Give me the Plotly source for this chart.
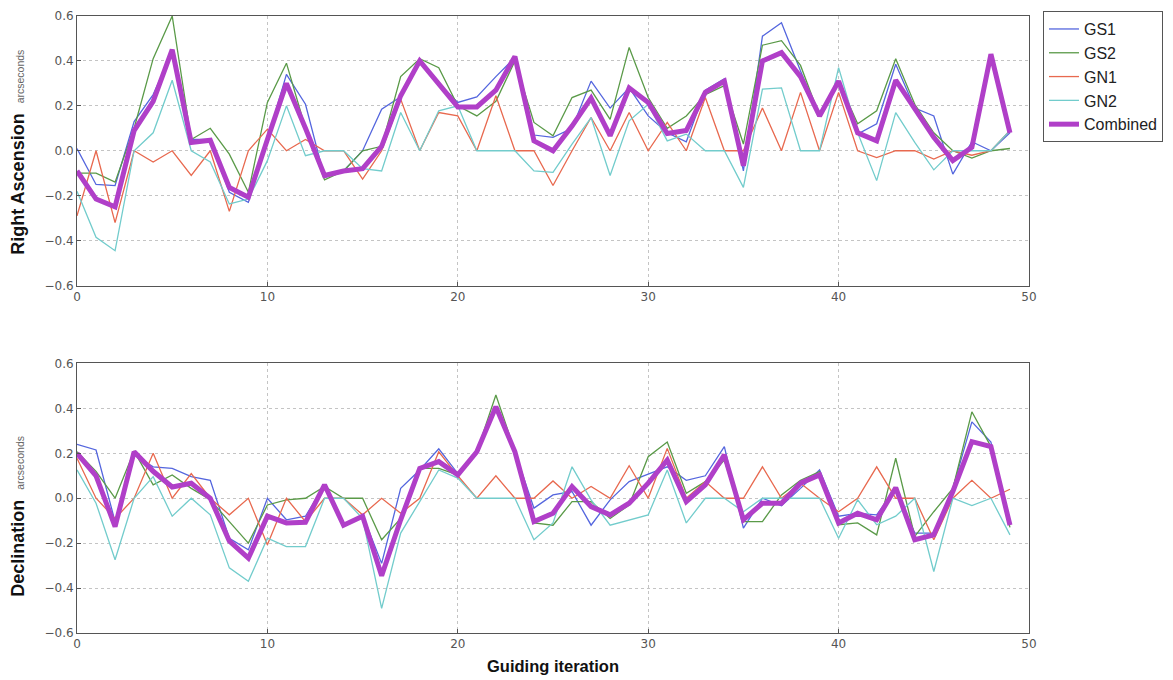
import plotly.graph_objects as go
from plotly.subplots import make_subplots

iterations = list(range(50))

# Right Ascension (arcseconds)
ra_gs1 = [0.01, -0.15, -0.155, 0.13, 0.25, 0.44, 0.05, 0.05, -0.185, -0.23,
          0.05, 0.34, 0.207, -0.12, -0.09, 0.0, 0.185, 0.24, 0.40, 0.30,
          0.215, 0.24, 0.33, 0.415, 0.07, 0.06, 0.10, 0.31, 0.19, 0.28,
          0.155, 0.08, 0.04, 0.27, 0.32, -0.09, 0.51, 0.57, 0.355, 0.155,
          0.31, 0.074, 0.12, 0.385, 0.19, 0.155, -0.104, 0.04, 0.0, 0.08]
ra_gs2 = [-0.10, -0.10, -0.14, 0.10, 0.41, 0.60, 0.05, 0.10, -0.015, -0.185,
          0.215, 0.39, 0.10, -0.13, -0.09, 0.0, 0.02, 0.33, 0.41, 0.37,
          0.20, 0.155, 0.22, 0.40, 0.126, 0.067, 0.237, 0.27, 0.14, 0.46,
          0.237, 0.10, 0.155, 0.25, 0.29, 0.03, 0.47, 0.49, 0.38, 0.155,
          0.31, 0.12, 0.178, 0.41, 0.207, 0.08, 0.0, -0.033, 0.0, 0.01]
ra_gn1 = [-0.29, 0.0, -0.32, 0.0, -0.05, 0.0, -0.11, 0.0, -0.27, 0.0,
          0.096, 0.0, 0.05, 0.0, 0.0, -0.126, 0.0, 0.23, 0.0, 0.17,
          0.155, 0.0, 0.245, 0.0, 0.0, -0.155, 0.0, 0.148, 0.0, 0.17,
          0.0, 0.126, 0.0, 0.237, 0.0, 0.0, 0.19, 0.0, 0.26, 0.0,
          0.26, 0.0, -0.03, 0.0, 0.0, -0.037, 0.0, -0.02, 0.0, 0.09]
ra_gn2 = [-0.18, -0.385, -0.445, 0.0, 0.08, 0.314, 0.0, -0.05, -0.237, -0.215,
          -0.044, 0.20, -0.022, 0.0, 0.0, -0.08, -0.09, 0.17, 0.0, 0.178,
          0.20, 0.0, 0.0, 0.0, -0.09, -0.096, 0.03, 0.148, -0.11, 0.133,
          0.207, 0.044, 0.074, 0.0, 0.0, -0.163, 0.274, 0.28, 0.0, 0.0,
          0.37, 0.08, -0.133, 0.17, 0.037, -0.085, 0.0, 0.0, 0.0, 0.09]
ra_comb = [-0.09, -0.215, -0.25, 0.09, 0.22, 0.45, 0.037, 0.047, -0.163, -0.207,
           0.05, 0.30, 0.10, -0.11, -0.09, -0.08, 0.02, 0.245, 0.40, 0.30,
           0.195, 0.195, 0.27, 0.42, 0.044, 0.0, 0.11, 0.234, 0.067, 0.28,
           0.215, 0.077, 0.09, 0.26, 0.31, -0.067, 0.40, 0.437, 0.33, 0.155,
           0.31, 0.08, 0.044, 0.314, 0.19, 0.06, -0.044, 0.015, 0.43, 0.08]

# Declination (arcseconds)
de_gs1 = [0.24, 0.215, -0.104, 0.193, 0.14, 0.133, 0.096, 0.08, -0.178, -0.23,
          0.0, -0.096, -0.08, 0.06, -0.12, -0.074, -0.29, 0.044, 0.126, 0.22,
          0.11, 0.207, 0.41, 0.207, -0.044, 0.015, 0.03, -0.12, -0.007, 0.074,
          0.107, 0.14, 0.08, 0.10, 0.23, -0.133, 0.0, -0.033, 0.044, 0.126,
          -0.08, -0.067, -0.074, 0.044, -0.155, -0.155, 0.044, 0.34, 0.25, -0.12]
de_gs2 = [0.207, 0.12, 0.0, 0.21, 0.06, 0.104, 0.044, -0.007, -0.104, -0.20,
          -0.03, -0.007, 0.0, 0.052, 0.0, 0.0, -0.185, -0.09, 0.133, 0.133,
          0.104, 0.207, 0.46, 0.21, -0.11, -0.12, -0.015, -0.015, -0.09, -0.03,
          0.185, 0.25, 0.022, 0.074, 0.17, -0.104, -0.104, 0.015, 0.08, 0.118,
          -0.118, -0.11, -0.163, 0.178, -0.17, -0.06, 0.044, 0.385, 0.23, -0.13]
de_gn1 = [0.178, 0.0, -0.09, 0.0, 0.20, 0.0, 0.11, 0.0, -0.074, 0.0,
          -0.207, 0.0, -0.104, 0.0, 0.0, -0.074, 0.0, -0.067, 0.0, 0.207,
          0.10, 0.0, 0.10, 0.0, 0.0, 0.077, 0.0, 0.052, 0.0, 0.145,
          0.0, 0.222, 0.0, 0.074, 0.0, 0.0, 0.14, 0.0, 0.067, 0.0,
          -0.06, 0.0, 0.14, 0.0, 0.0, -0.185, 0.0, 0.08, 0.0, 0.04]
de_gn2 = [0.126, -0.022, -0.274, 0.0, 0.096, -0.08, 0.0, -0.074, -0.31, -0.37,
          -0.178, -0.215, -0.215, 0.0, 0.0, -0.09, -0.49, -0.155, -0.015, 0.126,
          0.09, 0.0, 0.0, 0.0, -0.185, -0.11, 0.14, -0.007, -0.12, -0.096,
          -0.074, 0.126, -0.11, 0.0, 0.0, -0.06, 0.0, 0.0, 0.0, 0.0,
          -0.178, -0.007, -0.118, -0.08, 0.0, -0.326, 0.0, -0.033, 0.0, -0.163]
de_comb = [0.20, 0.10, -0.126, 0.207, 0.12, 0.05, 0.067, 0.0, -0.19, -0.267,
           -0.08, -0.11, -0.107, 0.06, -0.12, -0.08, -0.345, -0.096, 0.133, 0.163,
           0.104, 0.207, 0.407, 0.207, -0.104, -0.067, 0.052, -0.037, -0.074, -0.022,
           0.067, 0.17, -0.015, 0.06, 0.193, -0.096, -0.022, -0.022, 0.067, 0.104,
           -0.11, -0.067, -0.096, 0.047, -0.185, -0.163, 0.03, 0.252, 0.23, -0.12]

names = ["GS1", "GS2", "GN1", "GN2", "Combined"]
colors = ["#5466de", "#5a9a48", "#e8694f", "#72cccc", "#b03fc8"]
widths = [1.3, 1.3, 1.3, 1.3, 5]

ra_series = [ra_gs1, ra_gs2, ra_gn1, ra_gn2, ra_comb]
de_series = [de_gs1, de_gs2, de_gn1, de_gn2, de_comb]

fig = make_subplots(rows=2, cols=1, vertical_spacing=0.1264)

for i, (nm, col, w) in enumerate(zip(names, colors, widths)):
    fig.add_trace(go.Scatter(x=iterations, y=ra_series[i], mode="lines", name=nm,
                             line=dict(color=col, width=w), legendgroup=nm,
                             showlegend=True), row=1, col=1)
    fig.add_trace(go.Scatter(x=iterations, y=de_series[i], mode="lines", name=nm,
                             line=dict(color=col, width=w), legendgroup=nm,
                             showlegend=False), row=2, col=1)

axis_common = dict(showline=True, mirror=True, linecolor="#555", linewidth=1,
                   showgrid=True, gridcolor="#c4c4c4", griddash="dot", gridwidth=1,
                   zeroline=False, ticks="inside", ticklen=4, tickcolor="#555",
                   automargin=False,
                   tickfont=dict(family="DejaVu Sans", size=12, color="#555"))

for r in (1, 2):
    fig.update_xaxes(range=[0, 50], dtick=10, tick0=0, row=r, col=1, **axis_common)
    fig.update_yaxes(range=[-0.6, 0.6], dtick=0.2, tick0=-0.6, tickformat=".1f",
                     row=r, col=1, **axis_common)

# page body has an 8px margin, so the figure is sized/offset to compensate
fig.update_layout(
    width=1165, height=672,
    margin=dict(l=69, r=144, t=8, b=47, autoexpand=False),
    paper_bgcolor="white", plot_bgcolor="white",
    showlegend=True,
    legend=dict(x=1.0147, y=1.008, xanchor="left", yanchor="top",
                bordercolor="#555", borderwidth=1, bgcolor="white",
                font=dict(family="Liberation Sans", size=16, color="#222"),
                tracegroupgap=0),
)

fig.add_annotation(xref="paper", yref="paper", x=-0.062, y=0.78,
                   xanchor="center", yanchor="middle", textangle=-90, showarrow=False,
                   text="<b>Right Ascension</b>&nbsp; <span style='font-size:10.5px;color:#666'>arcseconds</span>",
                   font=dict(family="Liberation Sans", size=18, color="#111"))
fig.add_annotation(xref="paper", yref="paper", x=-0.062, y=0.19,
                   xanchor="center", yanchor="middle", textangle=-90, showarrow=False,
                   text="<b>Declination</b>&nbsp; <span style='font-size:10.5px;color:#666'>arcseconds</span>",
                   font=dict(family="Liberation Sans", size=18, color="#111"))
fig.add_annotation(xref="paper", yref="paper", x=0.5, y=-0.053,
                   xanchor="center", yanchor="middle", showarrow=False,
                   text="<b>Guiding iteration</b>",
                   font=dict(family="Liberation Sans", size=16.5, color="#111"))

fig.write_html("out.html")
